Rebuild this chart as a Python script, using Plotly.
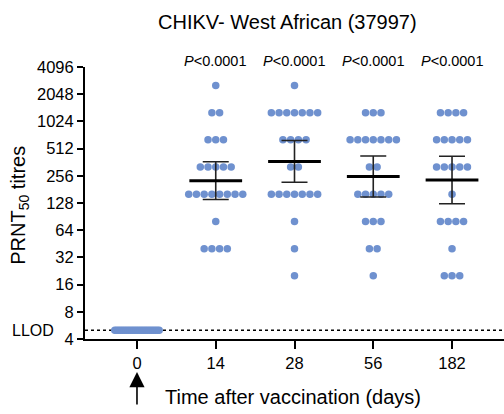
import numpy as np
import plotly.graph_objects as go

# ---------------- data ----------------
days = ["0", "14", "28", "56", "182"]
LLOD = 5
day0 = [5] * 24
day14 = [2560] * 1 + [1280] * 2 + [640] * 3 + [320] * 5 + [160] * 8 + [80] * 1 + [40] * 4
day28 = [2560] * 1 + [1280] * 7 + [640] * 4 + [320] * 2 + [160] * 7 + [80] * 1 + [40] * 1 + [20] * 1
day56 = [1280] * 3 + [640] * 7 + [320] * 2 + [160] * 5 + [80] * 3 + [40] * 2 + [20] * 1
day182 = [1280] * 4 + [640] * 5 + [320] * 5 + [160] * 1 + [80] * 4 + [40] * 1 + [20] * 3
groups = [day0, day14, day28, day56, day182]
ytick_vals = [4, 8, 16, 32, 64, 128, 256, 512, 1024, 2048, 4096]
ytick_text = [str(v) for v in ytick_vals]
p_labels = ["<i>P</i>&lt;0.0001"] * 4
T95 = {22: 2.074, 23: 2.069}  # t critical values (two-sided 95%)

title = "CHIKV- West African (37997)"
xtitle = "Time after vaccination (days)"
ytitle = "PRNT<sub>50</sub> titres"

# ---------------- styles ----------------
FONT = "'Liberation Sans', Arial, sans-serif"
DOT = "#6F91CF"
W, H = 504, 414
ML, MR, MT, MB = 85, 0, 67, 75
XR = [-0.66, 4.66]

fig = go.Figure()

# scatter points (rows spread horizontally)
for gi, vals in enumerate(groups):
    xs, ys = [], []
    if gi == 0:
        n = len(vals)
        sp = 0.0245
        for i, v in enumerate(vals):
            xs.append(gi + (i - (n - 1) / 2) * sp)
            ys.append(v)
    else:
        sp = 0.098
        for v in sorted(set(vals), reverse=True):
            k = vals.count(v)
            for i in range(k):
                xs.append(gi + (i - (k - 1) / 2) * sp)
                ys.append(v)
    fig.add_trace(go.Scatter(x=xs, y=ys, mode="markers",
                             marker=dict(color=DOT, size=7.5, line=dict(width=0)),
                             showlegend=False, hoverinfo="skip", cliponaxis=False))

# geometric mean with 95% CI
for gi, vals in enumerate(groups):
    if gi == 0:
        continue
    lv = np.log2(np.array(vals, dtype=float))
    n = len(lv)
    m = lv.mean()
    se = lv.std(ddof=1) / np.sqrt(n)
    t = T95.get(n - 1, 2.07)
    gm = 2 ** m
    up = 2 ** (m + t * se)
    lo = 2 ** (m - t * se)
    fig.add_trace(go.Scatter(x=[gi], y=[gm], mode="markers",
                             marker=dict(size=1, color="rgba(0,0,0,0)"),
                             error_y=dict(type="data", symmetric=False,
                                          array=[up - gm], arrayminus=[gm - lo],
                                          color="#222", thickness=1.6, width=13),
                             showlegend=False, hoverinfo="skip"))
    fig.add_trace(go.Scatter(x=[gi - 0.335, gi + 0.335], y=[gm, gm], mode="lines",
                             line=dict(color="black", width=3),
                             showlegend=False, hoverinfo="skip"))

# LLOD dotted line
fig.add_shape(type="line", xref="paper", x0=0, x1=1, yref="y", y0=LLOD, y1=LLOD,
              line=dict(color="black", width=1.5, dash="dot"), layer="below")

annotations = []
annotations.append(dict(text=title, xref="paper", yref="paper",
                        x=(287 - ML) / (W - ML - MR), y=1, yshift=45,
                        xanchor="center", yanchor="middle", showarrow=False,
                        font=dict(family=FONT, size=20, color="black")))
for i, p in enumerate(p_labels):
    annotations.append(dict(text=p, xref="x", yref="paper", x=i + 1, y=1, yshift=6,
                            xanchor="center", yanchor="middle", showarrow=False,
                            font=dict(family=FONT, size=14.5, color="black")))
annotations.append(dict(text=xtitle, xref="paper", yref="paper",
                        x=(293 - ML) / (W - ML - MR), y=0, yshift=-58,
                        xanchor="center", yanchor="middle", showarrow=False,
                        font=dict(family=FONT, size=20, color="black")))
annotations.append(dict(text=ytitle, xref="paper", yref="paper",
                        x=0, xshift=-65, y=0.49, textangle=-90,
                        xanchor="center", yanchor="middle", showarrow=False,
                        font=dict(family=FONT, size=20, color="black")))
annotations.append(dict(text="LLOD", xref="paper", yref="y",
                        x=0, xshift=-29, y=np.log10(LLOD),
                        xanchor="right", yanchor="middle", showarrow=False,
                        font=dict(family=FONT, size=16, color="black")))
# arrow under day 0
annotations.append(dict(text="", xref="x", yref="paper", x=0,
                        y=-(372 - (H - MB)) / (H - MT - MB),
                        showarrow=True, ax=0, ay=34, axref="pixel", ayref="pixel",
                        arrowhead=2, arrowsize=1.9, arrowwidth=1.6, arrowcolor="black"))

fig.update_layout(
    width=W, height=H,
    margin=dict(l=ML, r=MR, t=MT, b=MB, pad=0),
    paper_bgcolor="white", plot_bgcolor="white",
    font=dict(family=FONT, size=16.5, color="black"),
    annotations=annotations,
    xaxis=dict(range=XR, tickmode="array", tickvals=list(range(len(days))), ticktext=days,
               showgrid=False, zeroline=False, showline=True, linecolor="black", linewidth=2,
               ticks="outside", ticklen=8, tickwidth=2, tickcolor="black",
               tickfont=dict(family=FONT, size=16.5, color="black")),
    yaxis=dict(type="log", range=[np.log10(4), np.log10(4096)],
               tickmode="array", tickvals=ytick_vals, ticktext=ytick_text,
               showgrid=False, zeroline=False, showline=True, linecolor="black", linewidth=2,
               ticks="outside", ticklen=6, tickwidth=2, tickcolor="black",
               tickfont=dict(family=FONT, size=16.5, color="black")),
)

fig.write_html("out.html")
